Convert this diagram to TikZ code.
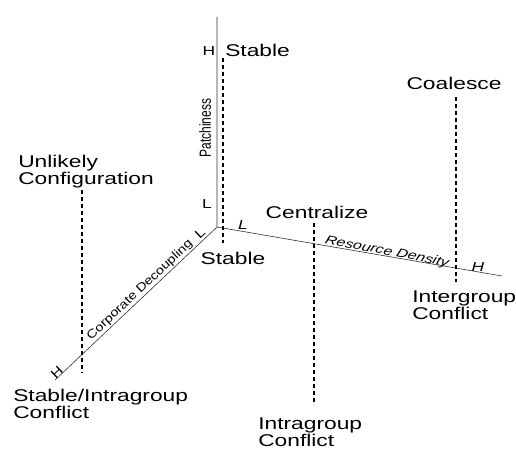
\documentclass[tikz,border=0pt]{standalone}
\usepackage{fontspec}
\setmainfont{Liberation Sans}
\newfontfamily\slantaxisfont{Liberation Sans}[FakeStretch=1.2]
\usetikzlibrary{positioning}
\tikzset{
  lbl/.style={
    inner sep=0pt, xscale=1.34, align=left,
    font=\fontsize{17}{16.5}\selectfont
  },
  axlbl/.style={
    inner sep=0pt, xscale=1.34,
    font=\fontsize{12}{12}\selectfont
  },
  endlbl/.style={
    inner sep=0pt, xscale=1.34,
    font=\fontsize{13}{13}\selectfont
  },
  corplbl/.style={
    inner sep=0pt, rotate=43.4,
    font=\fontsize{12}{12}\slantaxisfont
  },
  axisline/.style={
    line width=0.6pt, color=black!80
  },
  vline/.style={
    line width=1.3pt, dash pattern=on 4pt off 3pt
  }
}

\begin{document}
\begin{tikzpicture}[x=1pt, y=-1pt]
\useasboundingbox (0,0) rectangle (516,449);
\coordinate (O) at (217,227);
\coordinate (ptop) at (217,17);
\coordinate (rend) at (502,276);
\coordinate (cend) at (55,380);
\draw[axisline] (ptop) -- (O) -- (rend);
\draw[axisline] (O) -- (cend);

\node[axlbl, rotate=90] (patch) at (205,128) {Patchiness};
\node[axlbl, rotate=-14, font=\fontsize{12}{12}\selectfont\itshape] (resdens) at (387,252) {Resource Density};
\node[corplbl] (corpdec) at (140,290) {Corporate Decoupling};

\node[endlbl] (phigh) at (209,51) {H};
\node[endlbl] (plow) at (207,204) {L};
\node[endlbl, font=\fontsize{13}{13}\selectfont\itshape] (rlow) at (243,225) {L};
\node[endlbl, font=\fontsize{13}{13}\selectfont\itshape] (rhigh) at (478,267) {H};
\node[corplbl, font=\fontsize{13}{13}\slantaxisfont] (clow) at (200,233) {L};
\node[corplbl, font=\fontsize{13}{13}\slantaxisfont] (chigh) at (57,372) {H};

\node[lbl, anchor=west] (stabletop) at (225,50) {Stable};
\node[lbl] (stablebot) at (233,258) {Stable};
\node[lbl] (central) at (317,212) {Centralize};
\node[lbl] (coal) at (454,83) {Coalesce};
\node[lbl, anchor=west] (inter) at (412,305) {Intergroup\\Conflict};
\node[lbl, anchor=west] (intra) at (258,432) {Intragroup\\Conflict};
\node[lbl, anchor=west] (unlikely) at (18,171.5) {Unlikely\\Configuration};
\node[lbl, anchor=west] (stabintra) at (13,404) {Stable/Intragroup\\Conflict};

\coordinate (s1) at (223,58);
\coordinate (s2) at (223,243);
\coordinate (u1) at (82,190);
\coordinate (u2) at (82,373);
\coordinate (z1) at (314,223);
\coordinate (z2) at (314,405);
\coordinate (k1) at (456,97);
\coordinate (k2) at (456,282);
\draw[vline] (s1) -- (s2);
\draw[vline] (u1) -- (u2);
\draw[vline] (z1) -- (z2);
\draw[vline] (k1) -- (k2);
\end{tikzpicture}
\end{document}
